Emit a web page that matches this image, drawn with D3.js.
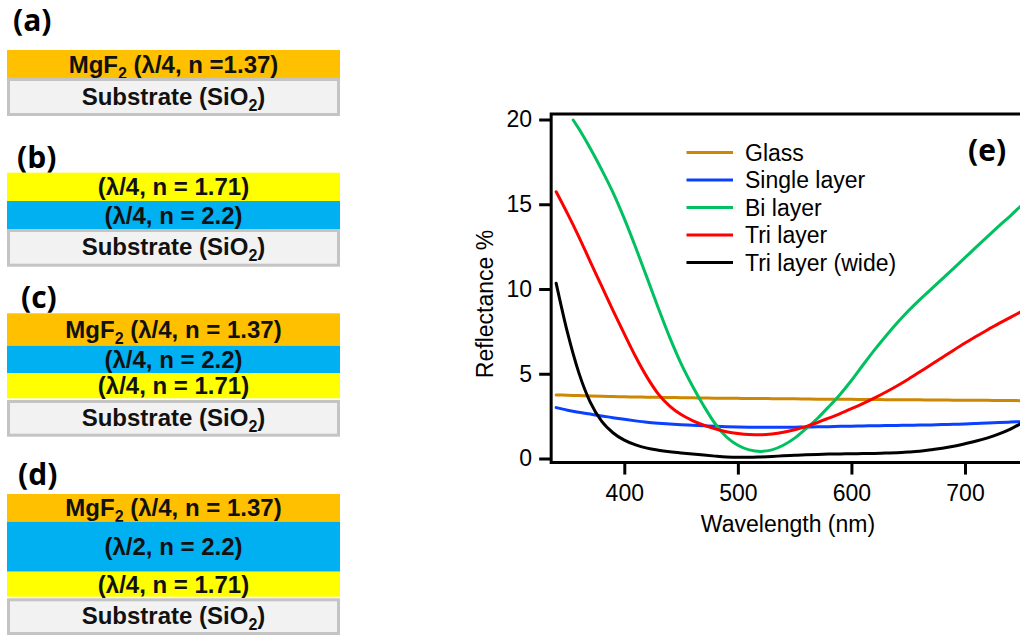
<!DOCTYPE html>
<html>
<head>
<meta charset="utf-8">
<script src="https://cdn.jsdelivr.net/npm/d3@7"></script>
<style>
  html, body { margin: 0; padding: 0; background: #fff; }
  svg { display: block; }
</style>
</head>
<body>
<svg id="fig" width="1020" height="637"></svg>
<script>
// ---- Reflectance spectra (%), sampled every 10 nm ----
const wavelengths = [340,350,360,370,380,390,400,410,420,430,440,450,460,470,480,490,500,510,520,530,540,550,560,570,580,590,600,610,620,630,640,650,660,670,680,690,700,710,720,730,740,750];
const glass = [3.75,3.73,3.71,3.69,3.67,3.66,3.64,3.63,3.62,3.61,3.60,3.59,3.58,3.57,3.56,3.56,3.55,3.54,3.54,3.53,3.52,3.52,3.51,3.50,3.50,3.49,3.49,3.48,3.48,3.47,3.47,3.46,3.46,3.45,3.45,3.44,3.44,3.43,3.43,3.42,3.42,3.41];
const singleLayer = [3.00,2.85,2.73,2.62,2.51,2.41,2.31,2.22,2.14,2.08,2.03,1.99,1.96,1.93,1.90,1.88,1.86,1.85,1.84,1.84,1.84,1.85,1.86,1.87,1.88,1.90,1.91,1.92,1.93,1.94,1.95,1.96,1.97,1.98,2.00,2.02,2.04,2.07,2.10,2.12,2.15,2.18];
const triLayer = [15.74,14.45,13.08,11.62,10.18,8.74,7.35,6.00,4.80,3.80,3.09,2.59,2.24,1.97,1.75,1.58,1.47,1.41,1.40,1.45,1.55,1.70,1.88,2.12,2.38,2.65,2.94,3.24,3.56,3.91,4.28,4.68,5.10,5.53,5.96,6.39,6.81,7.21,7.60,7.97,8.33,8.68];
const triLayerWide = [10.34,7.42,5.05,3.32,2.20,1.52,1.08,0.80,0.61,0.49,0.40,0.33,0.27,0.20,0.14,0.09,0.07,0.07,0.09,0.12,0.16,0.19,0.22,0.24,0.26,0.27,0.28,0.29,0.30,0.32,0.34,0.38,0.43,0.51,0.60,0.72,0.87,1.03,1.22,1.45,1.73,2.10];
// the bi-layer curve enters the 0–20 % window at 355 nm
const biLayerWavelengths = [355,360,370,380,390,400,410,420,430,440,450,460,470,480,490,500,510,520,530,540,550,560,570,580,590,600,610,620,630,640,650,660,670,680,690,700,710,720,730,740,750];
const biLayer = [19.97,19.45,18.30,17.05,15.70,14.15,12.45,10.67,8.87,7.15,5.60,4.28,3.10,2.05,1.27,0.78,0.51,0.42,0.51,0.78,1.20,1.76,2.36,3.05,3.78,4.60,5.50,6.38,7.20,7.98,8.70,9.36,9.98,10.60,11.22,11.85,12.48,13.10,13.72,14.32,14.95];

const seriesNames = ["Glass", "Single layer", "Bi layer", "Tri layer", "Tri layer (wide)"];
const seriesColors = ["#CC8800", "#0A40FF", "#00C060", "#FF0000", "#000000"];

const xTicks = [400, 500, 600, 700];
const yTicks = [0, 5, 10, 15, 20];
const xTitle = "Wavelength (nm)";
const yTitle = "Reflectance %";

// ---- Coating stacks (top layer first) ----
const stackLabels = ["(a)", "(b)", "(c)", "(d)"];
const stackLayers = [
  [{pre: "MgF", sub: "2", post: " (λ/4, n =1.37)", kind: "mgf2"},
   {pre: "Substrate (SiO", sub: "2", post: ")", kind: "substrate"}],
  [{pre: "(λ/4, n = 1.71)", kind: "low"},
   {pre: "(λ/4, n = 2.2)", kind: "high"},
   {pre: "Substrate (SiO", sub: "2", post: ")", kind: "substrate"}],
  [{pre: "MgF", sub: "2", post: " (λ/4, n = 1.37)", kind: "mgf2"},
   {pre: "(λ/4, n = 2.2)", kind: "high"},
   {pre: "(λ/4, n = 1.71)", kind: "low"},
   {pre: "Substrate (SiO", sub: "2", post: ")", kind: "substrate"}],
  [{pre: "MgF", sub: "2", post: " (λ/4, n = 1.37)", kind: "mgf2"},
   {pre: "(λ/2, n = 2.2)", kind: "high"},
   {pre: "(λ/4, n = 1.71)", kind: "low"},
   {pre: "Substrate (SiO", sub: "2", post: ")", kind: "substrate"}]
];

// ---- Layout ----
const svg = d3.select("#fig");
svg.append("rect").attr("width", 1020).attr("height", 637).attr("fill", "#fff");

const kindFill = {mgf2: "#FFC000", high: "#00B0F0", low: "#FFFF00", substrate: "#F2F2F2"};
const stackTop = [50, 172.7, 313.3, 494];
const layerHeights = [
  [28, 38],
  [28.3, 28, 37.7],
  [32.4, 27.6, 25, 36.7],
  [27.7, 50, 25, 36.7]
];
const substrateGap = [0, 0, 1.7, 1.6];
const labelCenterY = [20, 157, 297, 474];
const labelX = [13, 17, 21, 18];
const stackX0 = 7, stackX1 = 340;
const layerFont = "'Liberation Sans', Arial, sans-serif";
const panelFont = "'Open Sans', sans-serif";

stackLabels.forEach((lab, i) => {
  const g = svg.append("g");
  g.append("text")
    .attr("x", labelX[i]).attr("y", labelCenterY[i] + 10.5)
    .attr("font-family", panelFont).attr("font-weight", 700)
    .attr("font-size", 30).attr("fill", "#000").text(lab);

  let y = stackTop[i];
  stackLayers[i].forEach((layer, j) => {
    const h = layerHeights[i][j];
    if (layer.kind === "substrate") y += substrateGap[i];
    const isSub = layer.kind === "substrate";
    g.append("rect")
      .attr("x", stackX0 + (isSub ? 1.5 : 0)).attr("y", y + (isSub ? 1.5 : 0))
      .attr("width", stackX1 - stackX0 - (isSub ? 3 : 0))
      .attr("height", h - (isSub ? 3 : 0))
      .attr("fill", kindFill[layer.kind])
      .attr("stroke", isSub ? "#C4C4C4" : "none")
      .attr("stroke-width", isSub ? 3 : 0);
    const t = g.append("text")
      .attr("x", (stackX0 + stackX1) / 2)
      .attr("y", y + h / 2 + 24 * 0.36 - (isSub ? 1 : 0))
      .attr("text-anchor", "middle")
      .attr("font-family", layerFont).attr("font-weight", 700)
      .attr("font-size", 24).attr("fill", "#111");
    t.append("tspan").text(layer.pre);
    if (layer.sub) {
      t.append("tspan").attr("font-size", 16).attr("dy", 6).text(layer.sub);
      t.append("tspan").attr("dy", -6).text(layer.post);
    }
    y += h;
  });
});

// ---- Reflectance chart ----
const x = d3.scaleLinear().domain([400, 700]).range([624.3, 965]);
const y = d3.scaleLinear().domain([0, 20]).range([458.5, 119.5]);
const frameLeft = x(335.6), frameRight = x(760), frameTop = y(20.33), frameBottom = y(-0.24);
const axisFont = "'Liberation Sans', Arial, sans-serif";

const plot = svg.append("g");
plot.append("clipPath").attr("id", "plotClip")
  .append("rect")
  .attr("x", frameLeft).attr("y", frameTop)
  .attr("width", frameRight - frameLeft).attr("height", frameBottom - frameTop);

const line = d3.line()
  .x(d => x(d[0])).y(d => y(d[1]))
  .curve(d3.curveMonotoneX);

const seriesData = [
  d3.zip(wavelengths, glass),
  d3.zip(wavelengths, singleLayer),
  d3.zip(biLayerWavelengths, biLayer),
  d3.zip(wavelengths, triLayer),
  d3.zip(wavelengths, triLayerWide)
];

const curves = plot.append("g").attr("clip-path", "url(#plotClip)");
seriesData.forEach((pts, i) => {
  curves.append("path")
    .datum(pts)
    .attr("d", line)
    .attr("fill", "none")
    .attr("stroke", seriesColors[i])
    .attr("stroke-width", 3)
    .attr("stroke-linecap", "round");
});

// Frame (left, top, bottom spines)
plot.append("path")
  .attr("d", `M${frameRight},${frameTop}H${frameLeft}V${frameBottom}H${frameRight}`)
  .attr("fill", "none").attr("stroke", "#000").attr("stroke-width", 3);

// Axes
const xAxis = d3.axisBottom(x).tickValues(xTicks).tickSize(12).tickPadding(10).tickSizeOuter(0);
const gx = plot.append("g").attr("transform", `translate(0,${frameBottom})`).call(xAxis);
gx.select(".domain").remove();
gx.selectAll(".tick line").attr("stroke", "#000").attr("stroke-width", 3);
gx.selectAll(".tick text").attr("font-family", axisFont).attr("font-size", 23).attr("fill", "#000");

const yAxis = d3.axisLeft(y).tickValues(yTicks).tickSize(12).tickPadding(7).tickSizeOuter(0);
const gy = plot.append("g").attr("transform", `translate(${frameLeft},0)`).call(yAxis);
gy.select(".domain").remove();
gy.selectAll(".tick line").attr("stroke", "#000").attr("stroke-width", 3);
gy.selectAll(".tick text").attr("font-family", axisFont).attr("font-size", 23).attr("fill", "#000");

plot.append("text")
  .attr("x", 788).attr("y", 532)
  .attr("text-anchor", "middle")
  .attr("font-family", axisFont).attr("font-size", 23).attr("fill", "#000")
  .text(xTitle);

plot.append("text")
  .attr("transform", "translate(493,304) rotate(-90)")
  .attr("text-anchor", "middle")
  .attr("font-family", axisFont).attr("font-size", 23).attr("fill", "#000")
  .text(yTitle);

// Legend
const legend = plot.append("g");
seriesNames.forEach((name, i) => {
  const ly = 152.5 + i * 27.5;
  legend.append("line")
    .attr("x1", 686.5).attr("x2", 733).attr("y1", ly).attr("y2", ly)
    .attr("stroke", seriesColors[i]).attr("stroke-width", 3);
  legend.append("text")
    .attr("x", 745).attr("y", ly + 8.2)
    .attr("font-family", axisFont).attr("font-size", 23).attr("fill", "#000")
    .text(name);
});

plot.append("text")
  .attr("x", 968).attr("y", 161)
  .attr("font-family", panelFont).attr("font-weight", 700)
  .attr("font-size", 30).attr("fill", "#000")
  .text("(e)");
</script>
</body>
</html>
